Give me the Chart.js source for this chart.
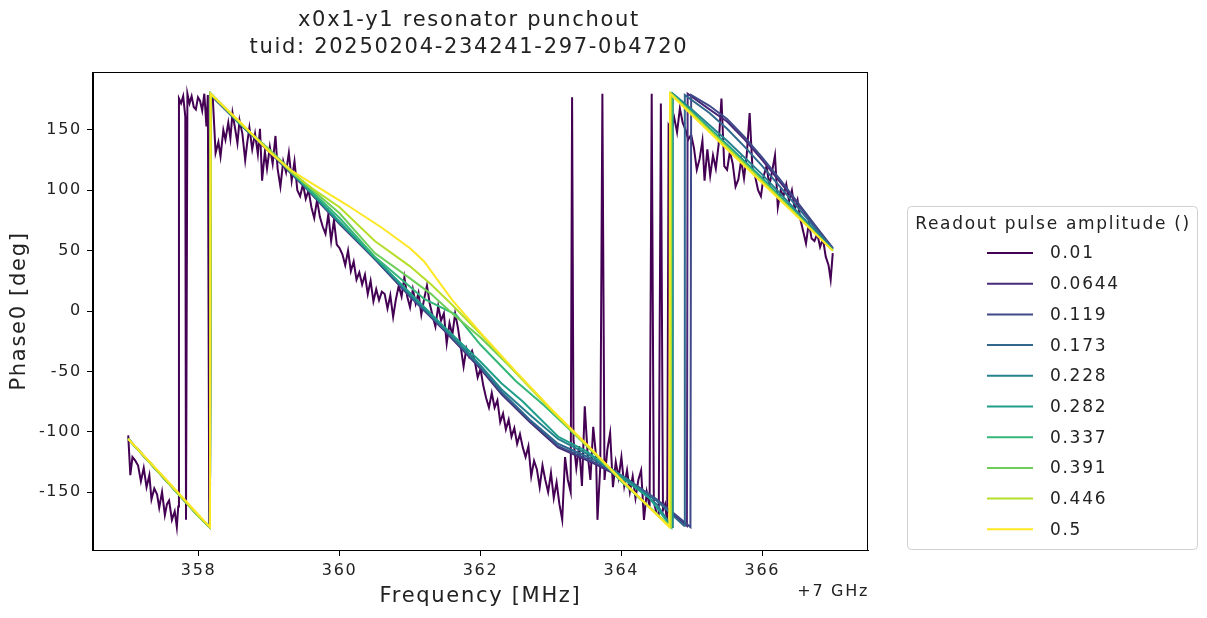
<!DOCTYPE html>
<html>
<head>
<meta charset="utf-8">
<script src="https://cdn.jsdelivr.net/npm/chart.js@4.4.1/dist/chart.umd.min.js"></script>
<style>
  html, body { margin: 0; padding: 0; background: #fff; }
</style>
</head>
<body>
<canvas id="myChart" width="1207" height="618"></canvas>
<script>
// legend labels and tick values
const amplitudes = ['0.01', '0.0644', '0.119', '0.173', '0.228', '0.282', '0.337', '0.391', '0.446', '0.5'];
const xTicks = [358, 360, 362, 364, 366];
const yTicks = [-150, -100, -50, 0, 50, 100, 150];

// amplitude 0.01 (noisy)
const freq001 = [
  357.00, 357.03, 357.06, 357.10, 357.14, 357.18, 357.22, 357.26, 357.30, 357.33,
  357.37, 357.41, 357.44, 357.48, 357.52, 357.55, 357.58, 357.62, 357.66, 357.69,
  357.71, 357.72, 357.75, 357.78, 357.81, 357.82, 357.84, 357.87, 357.90, 357.93,
  357.96, 357.99, 358.02, 358.05, 358.08, 358.11, 358.13, 358.15, 358.17, 358.20,
  358.24, 358.28, 358.31, 358.35, 358.38, 358.42, 358.45, 358.48, 358.52, 358.55,
  358.58, 358.62, 358.66, 358.69, 358.72, 358.76, 358.80, 358.84, 358.87, 358.90,
  358.94, 358.97, 359.01, 359.05, 359.09, 359.12, 359.16, 359.20, 359.24, 359.28,
  359.32, 359.36, 359.40, 359.44, 359.48, 359.52, 359.56, 359.60, 359.64, 359.68,
  359.72, 359.76, 359.80, 359.84, 359.88, 359.92, 359.96, 360.00, 360.04, 360.08,
  360.12, 360.16, 360.20, 360.24, 360.28, 360.32, 360.36, 360.40, 360.44, 360.48,
  360.52, 360.56, 360.60, 360.64, 360.68, 360.72, 360.76, 360.80, 360.84, 360.88,
  360.92, 360.96, 361.00, 361.04, 361.08, 361.12, 361.16, 361.20, 361.24, 361.28,
  361.32, 361.36, 361.40, 361.44, 361.48, 361.52, 361.56, 361.60, 361.64, 361.68,
  361.72, 361.76, 361.80, 361.84, 361.88, 361.92, 361.96, 362.00, 362.04, 362.08,
  362.12, 362.16, 362.20, 362.24, 362.28, 362.32, 362.36, 362.40, 362.44, 362.48,
  362.52, 362.56, 362.60, 362.64, 362.68, 362.72, 362.76, 362.80, 362.84, 362.88,
  362.92, 362.96, 363.00, 363.04, 363.08, 363.12, 363.16, 363.20, 363.24, 363.28,
  363.30, 363.32, 363.36, 363.40, 363.44, 363.48, 363.52, 363.56, 363.60, 363.64,
  363.66, 363.70, 363.73, 363.76, 363.80, 363.84, 363.88, 363.92, 363.96, 364.00,
  364.04, 364.08, 364.12, 364.16, 364.20, 364.24, 364.28, 364.32, 364.36, 364.40,
  364.43, 364.46, 364.50, 364.53, 364.56, 364.59, 364.62, 364.65, 364.67, 364.71,
  364.75, 364.79, 364.83, 364.87, 364.91, 364.95, 364.99, 365.03, 365.07, 365.11,
  365.15, 365.18, 365.22, 365.26, 365.30, 365.34, 365.38, 365.42, 365.46, 365.50,
  365.54, 365.58, 365.62, 365.66, 365.70, 365.74, 365.78, 365.82, 365.86, 365.90,
  365.94, 365.98, 366.02, 366.06, 366.10, 366.14, 366.18, 366.22, 366.26, 366.30,
  366.34, 366.38, 366.42, 366.46, 366.50, 366.54, 366.58, 366.62, 366.66, 366.70,
  366.74, 366.78, 366.82, 366.86, 366.90, 366.94, 366.97, 367.00
];
const phase001 = [
  -103, -136, -121, -124, -128, -141, -130, -146, -136, -156,
  -147, -152, -163, -150, -169, -160, -157, -173, -166, -179,
  -162, 176, 172, 178, 161, -173, 180, 172, 178, 169,
  167, 177, 174, 166, 180, 153, 179, -177, 179, 177,
  131, 140, 128, 150, 142, 156, 143, 164, 150, 139,
  158, 147, 125, 140, 152, 134, 147, 130, 151, 108,
  132, 118, 136, 122, 145, 118, 103, 124, 115, 131,
  108, 124, 100, 95, 105, 93, 100, 86, 77, 92,
  78, 70, 64, 80, 58, 75, 55, 52, 47, 38,
  50, 33, 41, 26, 32, 22, 30, 14, 25, 8,
  18, 9, 16, 14, 2, 13, -5, 10, 21, 12,
  28, 12, 3, 18, 6, 15, -3, 10, 21, 6,
  -4, -13, 4, -8, -2, -27, -10, -20, -2, -14,
  -30, -46, -31, -38, -33, -42, -55, -48, -62, -72,
  -80, -68, -80, -74, -92, -85, -98, -90, -104, -97,
  -110, -102, -113, -121, -112, -137, -124, -131, -146, -128,
  -140, -150, -134, -155, -142, -160, -173, -121, -140, -150,
  177, -107, -130, -112, -145, -79, -118, -140, -96, -120,
  -173, -129, 180, -140, -115, -101, -146, -125, -138, -121,
  -145, -132, -150, -137, -155, -140, -132, -173, -150, -162,
  180, -158, -168, -170, 172, -165, -160, -176, 154, 150,
  160, 148, 168, 156, 150, 142, 146, 135, 117, 126,
  141, 108, 134, 112, 129, 118, 138, 176, 120, 117,
  132, 122, 103, 109, 125, 110, 130, 164, 118, 111,
  100, 95, 112, 120, 104, 116, 129, 86, 100, 95,
  105, 91, 100, 84, 92, 76, 66, 56, 73, 60,
  58, 64, 53, 60, 45, 38, 26, 48
];

// amplitude 0.0644
const freq0644 = [357.0, 357.5, 358.0, 358.16, 358.17, 358.6, 359.0, 359.5, 360.0, 360.5, 361.0, 361.5, 362.0, 362.3,
  362.7, 363.1, 363.6, 364.1, 364.5, 364.93, 364.94, 365.25, 365.5, 365.75, 366.0, 366.25, 366.5, 366.75, 367.0];
const phase0644 = [-106, -138, -170, -179, 179, 154, 132, 103, 72, 43, 12, -17, -48, -69,
  -92, -113, -126, -141, -157, -178, 180, 167, 157, 142, 125, 107, 89, 70, 52];

// amplitude 0.119
const freq0119 = [357.0, 357.5, 358.0, 358.16, 358.17, 358.6, 359.0, 359.5, 360.0, 360.5, 361.0, 361.5, 362.0, 362.3,
  362.7, 363.1, 363.6, 364.1, 364.5, 364.98, 364.99, 365.25, 365.5, 365.75, 366.0, 366.25, 366.5, 366.75, 367.0];
const phase0119 = [-106, -138, -170, -179, 179, 154, 133, 104, 73, 43, 12, -16, -47, -68,
  -91, -112, -125, -140, -156, -179, 179, 170, 159, 144, 127, 109, 90, 71, 52];

// amplitude 0.173
const freq0173 = [357.0, 357.5, 358.0, 358.16, 358.17, 358.6, 359.0, 359.5, 360.0, 360.5, 361.0, 361.5, 362.0, 362.3,
  362.7, 363.1, 363.6, 364.1, 364.5, 364.89, 364.90, 365.25, 365.5, 365.75, 366.0, 366.5, 367.0];
const phase0173 = [-106, -138, -170, -179, 180, 154, 133, 104, 73, 44, 13, -16, -46, -67,
  -90, -110, -123, -140, -157, -178, 179, 164, 151, 136, 120, 86, 51];

// amplitude 0.228
const freq0228 = [357.0, 357.5, 358.0, 358.16, 358.17, 358.6, 359.0, 359.5, 360.0, 360.5, 361.0, 361.5, 362.0, 362.3,
  362.7, 363.1, 363.6, 364.1, 364.5, 364.72, 364.73, 365.0, 365.5, 366.0, 366.5, 367.0];
const phase0228 = [-106, -138, -170, -179, 180, 154, 133, 104, 73, 44, 14, -15, -45, -65,
  -86, -106, -121, -140, -160, -179, 180, 167, 141, 113, 82, 51];

// amplitude 0.282
const freq0282 = [357.0, 357.5, 358.0, 358.16, 358.17, 358.6, 359.0, 359.5, 360.0, 360.5, 361.0, 361.5, 362.0, 362.3,
  362.6, 363.1, 363.5, 364.0, 364.4, 364.71, 364.72, 365.0, 365.5, 366.0, 366.5, 367.0];
const phase0282 = [-106, -138, -170, -179, 180, 155, 133, 104, 74, 44, 15, -14, -42, -60,
  -75, -104, -116, -138, -155, -179, 180, 165, 138, 110, 80, 50];

// amplitude 0.337
const freq0337 = [357.0, 357.5, 358.0, 358.16, 358.17, 358.6, 359.0, 359.5, 360.0, 360.5, 361.0, 361.2, 361.65, 362.0,
  362.5, 362.9, 363.5, 364.0, 364.70, 364.71, 365.5, 366.0, 366.5, 367.0];
const phase0337 = [-106, -138, -170, -179, 180, 155, 133, 105, 77, 45, 20, 10, -3, -28,
  -58, -78, -111, -141, -179, 180, 136, 108, 79, 50];

// amplitude 0.391
const freq0391 = [357.0, 357.5, 358.0, 358.16, 358.17, 358.6, 359.0, 359.5, 360.0, 360.5, 361.0, 361.3, 361.6, 362.0,
  362.4, 362.8, 363.2, 363.6, 364.0, 364.70, 364.71, 365.5, 366.0, 366.5, 367.0];
const phase0391 = [-106, -138, -170, -179, 180, 155, 134, 106, 81, 48, 27, 14, -2, -22,
  -45, -69, -94, -117, -141, -179, 180, 136, 108, 79, 50];

// amplitude 0.446
const freq0446 = [357.0, 357.5, 358.0, 358.16, 358.17, 358.6, 359.0, 359.3, 359.6, 360.0, 360.5, 361.0, 361.3, 361.6, 362.0,
  362.5, 363.0, 363.5, 364.0, 364.69, 364.70, 365.5, 366.0, 366.5, 367.0];
const phase0446 = [-106, -138, -170, -179, 180, 155, 133, 116, 102, 86, 58, 37, 22, 5, -19,
  -51, -82, -111, -140, -179, 180, 135, 107, 79, 50];

// amplitude 0.5
const freq0500 = [357.0, 357.5, 358.0, 358.16, 358.17, 358.6, 359.0, 359.3, 359.6, 360.1, 360.6, 361.0, 361.2, 361.4, 361.6, 362.0,
  362.5, 363.0, 363.5, 364.0, 364.68, 364.69, 365.5, 366.0, 366.5, 367.0];
const phase0500 = [-106, -137, -169, -179, 180, 156, 132, 117, 106, 88, 69, 52, 41, 25, 9, -18,
  -50, -81, -110, -140, -179, 180, 134, 106, 78, 50];

const series = [
  [freq001, phase001], [freq0644, phase0644], [freq0119, phase0119], [freq0173, phase0173],
  [freq0228, phase0228], [freq0282, phase0282], [freq0337, phase0337], [freq0391, phase0391],
  [freq0446, phase0446], [freq0500, phase0500]
];
const viridis = ['#440154', '#482878', '#3e4989', '#31688e', '#26828e', '#1f9e89', '#35b779', '#6ece58', '#b5de2b', '#fde725'];

const FONT = '"DejaVu Sans", sans-serif';
Chart.defaults.font.family = FONT;
Chart.defaults.color = '#222';

function toPoints(f, p) {
  return f.map((x, i) => ({ x: x, y: p[i] }));
}

// title, frame, offset text and the boxed legend
const extras = {
  id: 'extras',
  beforeUpdate(chart) {
    // the reference font is wider than DejaVu, spread the letters a little
    chart.ctx.letterSpacing = '1.7px';
  },
  afterDraw(chart) {
    const c = chart.ctx;
    const a = chart.chartArea;
    c.save();
    c.strokeStyle = '#000';
    c.lineWidth = 1;
    c.strokeRect(Math.round(a.left) - 0.5, Math.round(a.top) + 0.5, Math.round(a.right - a.left), Math.round(a.bottom - a.top));

    c.fillStyle = '#222';
    c.textAlign = 'center';
    c.textBaseline = 'middle';
    c.font = '21px ' + FONT;
    c.fillText('x0x1-y1 resonator punchout', 469, 21);
    c.fillText('tuid: 20250204-234241-297-0b4720', 469, 48);

    c.font = '16px ' + FONT;
    c.textAlign = 'right';
    c.fillText('+7 GHz', a.right + 1, 592);

    // legend box
    c.beginPath();
    c.roundRect(907.5, 206.5, 290, 343, 4);
    c.fillStyle = 'rgba(255,255,255,0.8)';
    c.fill();
    c.strokeStyle = '#d0d0d0';
    c.stroke();
    c.fillStyle = '#222';
    c.textAlign = 'center';
    c.font = '17px ' + FONT;
    c.fillText('Readout pulse amplitude ()', 1053, 225);
    c.textAlign = 'left';
    chart.data.datasets.forEach((ds, i) => {
      const y = 253 + i * 30.7;
      c.strokeStyle = ds.borderColor;
      c.lineWidth = 2;
      c.beginPath();
      c.moveTo(987, y);
      c.lineTo(1033, y);
      c.stroke();
      c.fillText(ds.label, 1050, y + 1);
    });
    c.restore();
  }
};

const ctx = document.getElementById('myChart');
const chart = new Chart(ctx, {
  type: 'line',
  data: {
    datasets: series.map((s, i) => ({
      label: amplitudes[i],
      data: toPoints(s[0], s[1]),
      borderColor: viridis[i],
      backgroundColor: viridis[i],
      borderWidth: 2,
      pointRadius: 0,
      tension: 0,
      fill: false,
      order: 10 - i
    }))
  },
  options: {
    responsive: false,
    animation: false,
    layout: { padding: { top: 72, right: 339, left: 0, bottom: 0 } },
    plugins: {
      legend: { display: false },
      tooltip: { enabled: false },
      title: { display: false }
    },
    scales: {
      x: {
        type: 'linear',
        min: 356.5,
        max: 367.5,
        afterBuildTicks: s => { s.ticks = xTicks.map(v => ({ value: v })); },
        afterFit: s => { s.height = 68; },
        grid: { drawOnChartArea: false, drawTicks: true, tickLength: 6, color: '#000' },
        border: { display: true, color: '#000', width: 1 },
        ticks: { font: { size: 16 }, color: '#222', padding: 5, maxRotation: 0, autoSkip: false },
        title: { display: true, text: 'Frequency [MHz]', font: { size: 21 }, color: '#222', padding: { top: 0, bottom: 9 } }
      },
      y: {
        type: 'linear',
        min: -198,
        max: 198,
        afterBuildTicks: s => { s.ticks = yTicks.map(v => ({ value: v })); },
        afterFit: s => { s.width = 93; },
        grid: { drawOnChartArea: false, drawTicks: true, tickLength: 6, color: '#000' },
        border: { display: true, color: '#000', width: 1 },
        ticks: { font: { size: 16 }, color: '#222', padding: 5, autoSkip: false },
        title: { display: true, text: 'Phase0 [deg]', font: { size: 21 }, color: '#222', padding: { top: 7, bottom: 0 } }
      }
    }
  },
  plugins: [extras]
});
</script>
</body>
</html>
